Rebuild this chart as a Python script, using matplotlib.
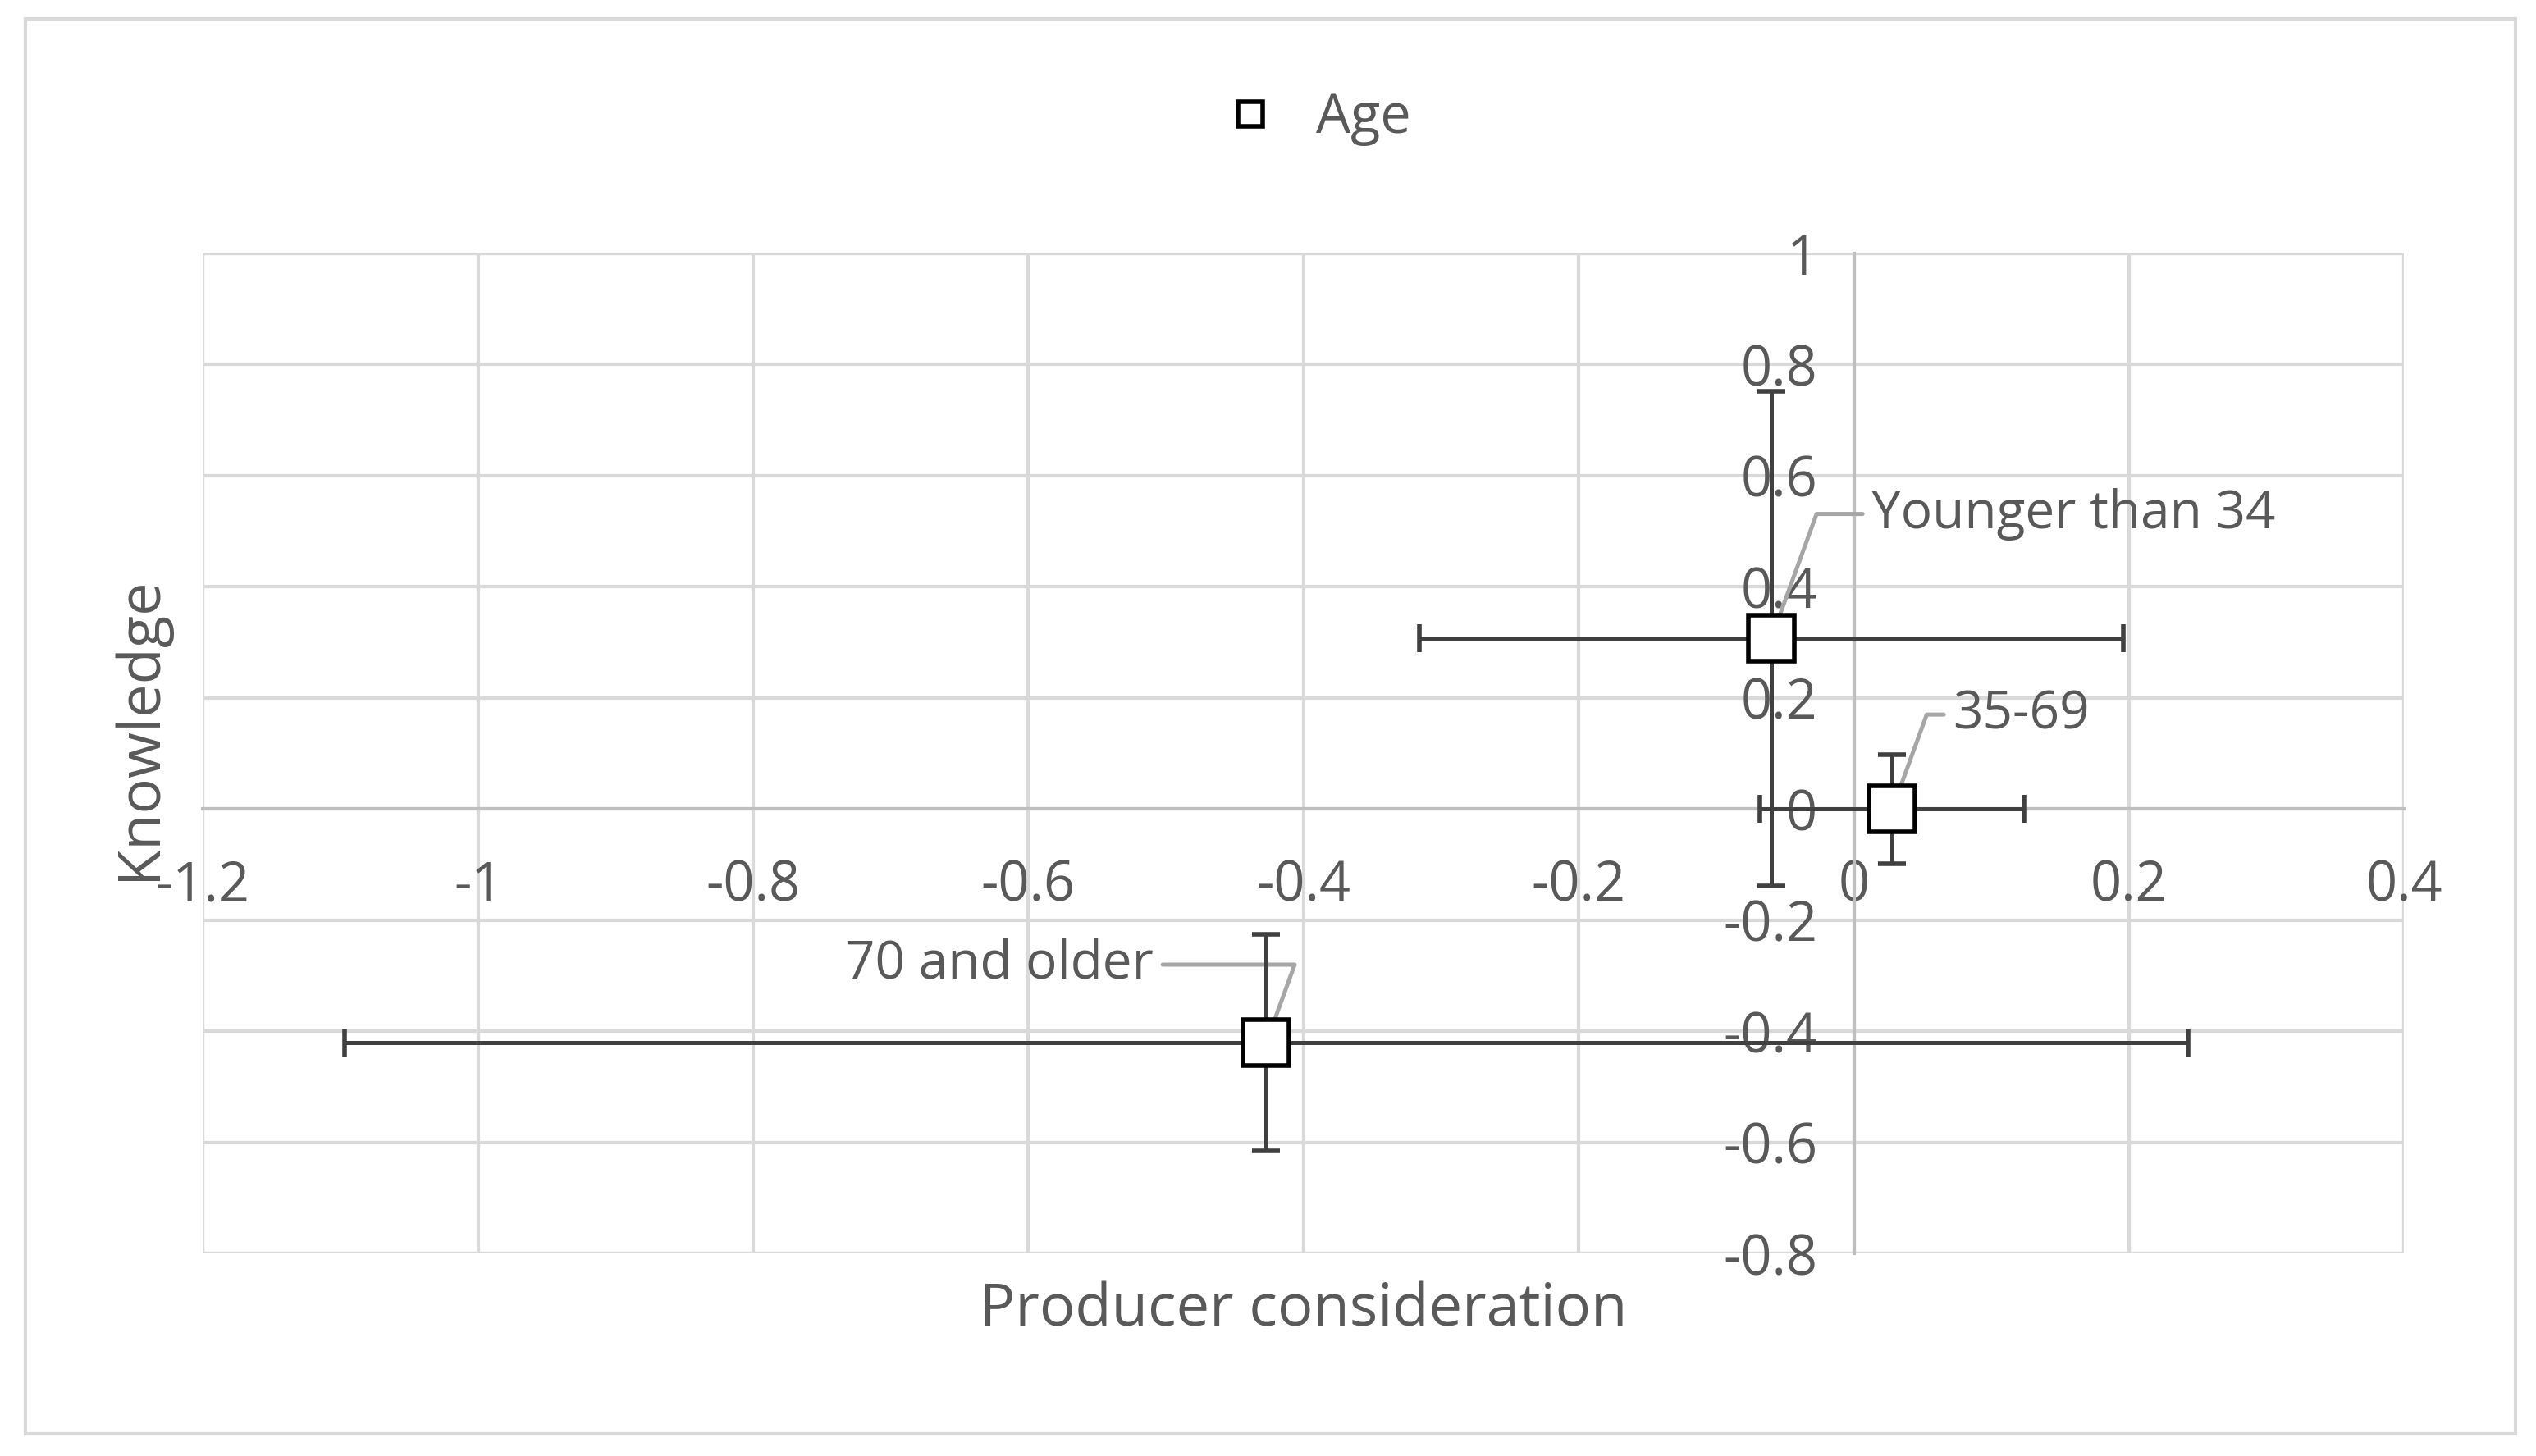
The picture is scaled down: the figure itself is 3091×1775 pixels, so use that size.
import matplotlib.pyplot as plt
from matplotlib.patches import Rectangle
from matplotlib.lines import Line2D

# Data
groups = ["Younger than 34", "35-69", "70 and older"]
x_vals = [-0.06, 0.028, -0.427]
y_vals = [0.307, 0.0, -0.42]
x_err = [0.256, 0.096, 0.67]
y_err = [0.445, 0.098, 0.195]
label_pos = [(0.013, 0.531), (0.072, 0.17), (-0.509, -0.28)]
x_ticks = [-1.2, -1, -0.8, -0.6, -0.4, -0.2, 0, 0.2, 0.4]
y_ticks = [-0.8, -0.6, -0.4, -0.2, 0, 0.2, 0.4, 0.6, 0.8, 1]

plt.rcParams['font.family'] = ['Open Sans', 'DejaVu Sans']
txt = '#595959'

fig = plt.figure(figsize=(15.455, 8.875), dpi=200)
fig.add_artist(Rectangle((0.01, 0.015), 0.982, 0.972, transform=fig.transFigure,
                         fill=False, edgecolor='#d9d9d9', linewidth=1.5))
ax = fig.add_axes([0.080, 0.139, 0.868, 0.687])

ax.errorbar(x_vals, y_vals, xerr=x_err, yerr=y_err, fmt='s', markersize=20,
            markerfacecolor='white', markeredgecolor='black', markeredgewidth=2,
            ecolor='#404040', elinewidth=1.8, capsize=6, capthick=1.8, zorder=5)

for name, x, y, (lx, ly) in zip(groups, x_vals, y_vals, label_pos):
    ha = 'right' if lx < x else 'left'
    ax.annotate(name, xy=(x, y), xytext=(lx, ly), fontsize=23, color=txt,
                ha=ha, va='center',
                arrowprops=dict(arrowstyle='-', color='#a6a6a6', linewidth=1.8,
                                shrinkA=2, shrinkB=0,
                                connectionstyle='angle,angleA=0,angleB=70,rad=0'))

ax.set_xlim(-1.2, 0.4)
ax.set_ylim(-0.8, 1)
ax.set_xticks(x_ticks)
ax.set_yticks(y_ticks)
ax.set_xticklabels([f"{t:g}" for t in x_ticks])
ax.set_yticklabels([f"{t:g}" for t in y_ticks])
ax.grid(True, color='#d9d9d9', linewidth=1.5)
ax.set_axisbelow(True)

for s in ['top', 'right']:
    ax.spines[s].set_visible(False)
ax.spines['left'].set_position(('data', 0))
ax.spines['bottom'].set_position(('data', 0))
for s in ['left', 'bottom']:
    ax.spines[s].set_color('#bfbfbf')
    ax.spines[s].set_linewidth(1.5)
ax.tick_params(length=0, labelsize=24, labelcolor=txt)
ax.tick_params(axis='y', pad=16)
ax.tick_params(axis='x', pad=22)
for v in [-1.2, 0.4]:
    ax.axvline(v, color='#d9d9d9', linewidth=1.5, zorder=0)
for v in [-0.8, 1]:
    ax.axhline(v, color='#d9d9d9', linewidth=1.5, zorder=0)

fig.text(0.055, 0.5, 'Knowledge', rotation=90, fontsize=26, color=txt,
         ha='center', va='center')
fig.text(0.514, 0.1, 'Producer consideration', fontsize=26, color=txt,
         ha='center', va='center')
handle = Line2D([], [], linestyle='none', marker='s', markersize=11,
                markerfacecolor='white', markeredgecolor='black', markeredgewidth=2)
ax.legend([handle], ['Age'], loc='center', bbox_to_anchor=(0.5, 1.135),
          frameon=False, fontsize=24, labelcolor=txt, handletextpad=0.2)

fig.savefig('out.png', dpi=200)
